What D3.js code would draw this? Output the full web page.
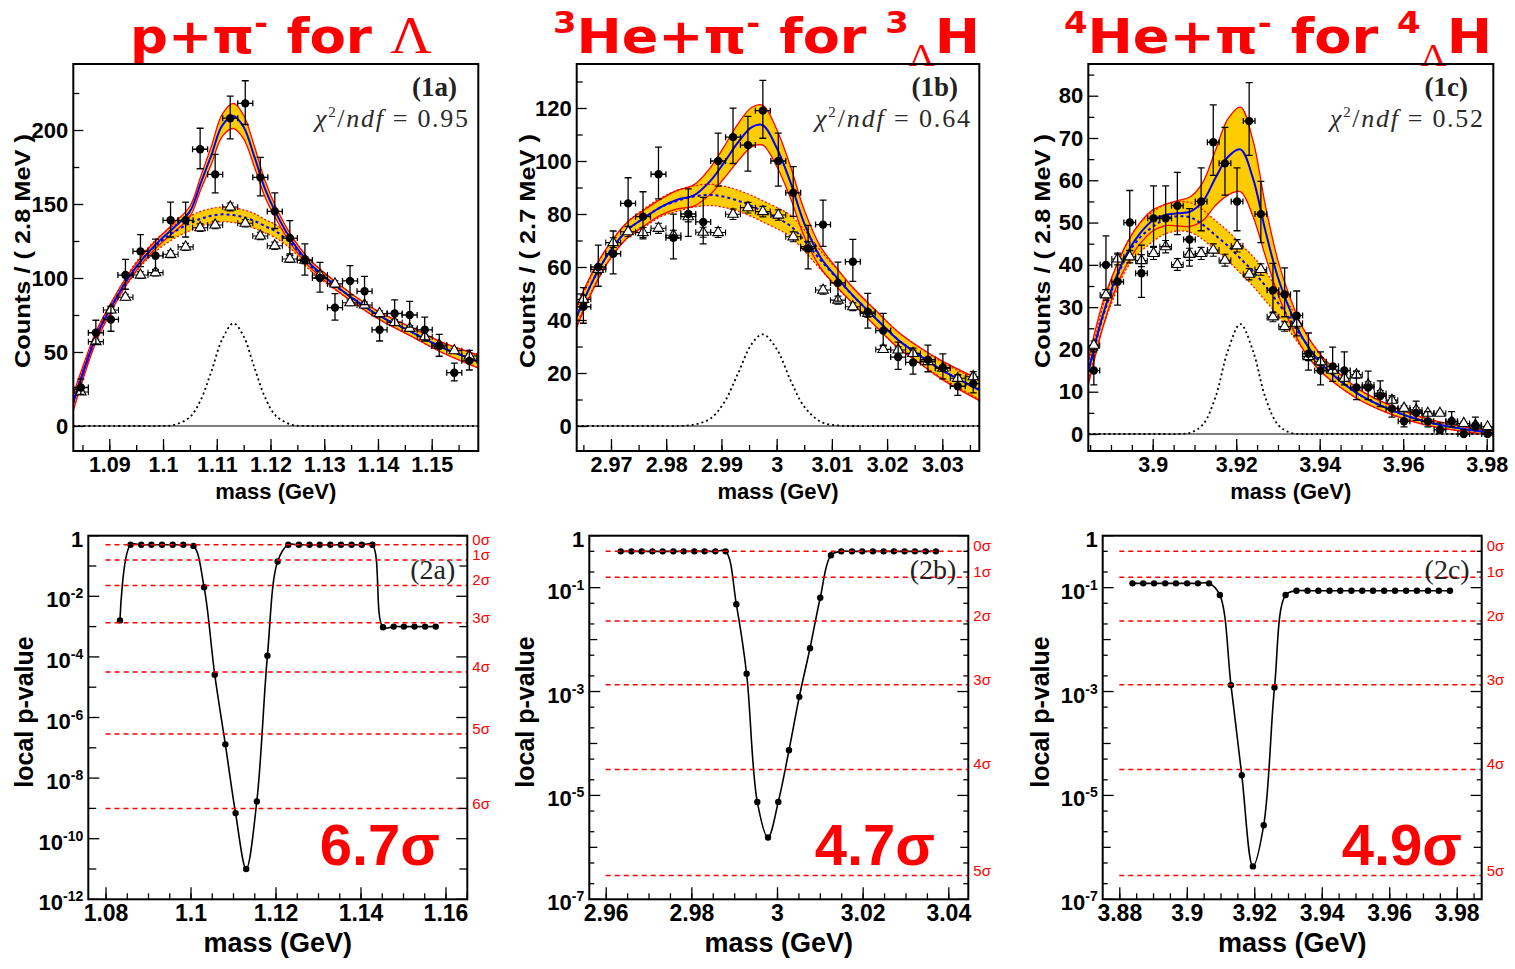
<!DOCTYPE html>
<html>
<head>
<meta charset="utf-8">
<script src="https://cdn.jsdelivr.net/npm/d3@7"></script>
<style>
  body { margin: 0; background: #fff; }
  svg { display: block; font-family: "Liberation Sans", Arial, Helvetica, sans-serif; }
</style>
</head>
<body>
<svg id="chart" width="1515" height="969"></svg>
<script>
// ---------- invariant mass spectra (top row) ----------
// bin centres, same-event counts (solid) and mixed-event background (open triangles)
var massA = [1.0847, 1.0875, 1.0903, 1.0930, 1.0958, 1.0986, 1.1014, 1.1042, 1.1069, 1.1097, 1.1125, 1.1153, 1.1181, 1.1208,
  1.1236, 1.1264, 1.1292, 1.1320, 1.1348, 1.1375, 1.1403, 1.1431, 1.1459, 1.1487, 1.1514, 1.1542, 1.1570];
var countsA = [26, 63, 72, 102, 118, 115, 139, 139, 187, 170, 208, 218, 168, 145, 127, 112, 100, 80, 98, 91, 65, 76, 75, 65, 54, 36, 44];
var mixedA = [23, 57, 78.4, 87, 102, 103.6, 116, 121, 134, 135.8, 148, 137, 128.4, 121.8, 112.8, 112, 102, 96, 83.3, 81.8,
  76, 70, 66, 60.3, 54.7, 50.9, 47.3];

var massB = [2.9650, 2.9677, 2.9704, 2.9731, 2.9758, 2.9786, 2.9813, 2.9840, 2.9867, 2.9894, 2.9921, 2.9948, 2.9975, 3.0003,
  3.0030, 3.0057, 3.0084, 3.0111, 3.0138, 3.0165, 3.0193, 3.0220, 3.0247, 3.0274, 3.0301, 3.0328, 3.0356];
var countsB = [45, 60, 65, 84, 79, 95, 71, 80, 77, 100, 109, 106, 119, 100, 88, 67, 76, 54, 62, 43, 36, 26, 24, 25, 22, 15, 16];
var mixedB = [47.8, 59.1, 69.2, 73.3, 73, 74.6, 72, 79, 73.1, 73, 79.9, 82.4, 80.9, 79.6, 71.4, 67.7, 51.3, 47.5, 45, 42.5,
  28.9, 28.7, 27.4, 24.3, 21.8, 18, 18.6];

var massC = [3.8859, 3.8888, 3.8916, 3.8945, 3.8973, 3.9002, 3.9031, 3.9059, 3.9088, 3.9116, 3.9145, 3.9173, 3.9202, 3.9231,
  3.9259, 3.9288, 3.9316, 3.9345, 3.9373, 3.9402, 3.9431, 3.9459, 3.9488, 3.9516, 3.9545, 3.9573, 3.9602, 3.9631, 3.9659,
  3.9688, 3.9716, 3.9745, 3.9773, 3.9802];
var countsC = [15, 40, 36, 50, 38, 51, 51, 54, 46, 55, 69, 64, 55, 74, 52, 34, 33, 28, 19, 15, 16, 15, 11, 11, 9, 6, 3, 5, 3,
  1, 3, 0, 2, 0];
var mixedC = [21, 32.9, 41.4, 41.9, 41, 42.7, 44.3, 40.1, 42.5, 42.7, 43.5, 41.1, 44.5, 37.8, 38.9, 27.7, 25.4, 26.2, 18.3,
  17.1, 15.1, 13.2, 14, 11.6, 9.6, 8, 6.1, 5.7, 4.9, 4.9, 2.9, 2.5, 2.1, 1.7];
var mixedErrScale = 0.22; // mixed-event errors relative to sqrt(N)

// fit curves: total (blue), background (blue dotted), signal (black dotted) and band half widths
var gridA = [1.0833, 1.0875, 1.090, 1.093, 1.096, 1.099, 1.102, 1.105, 1.107, 1.109, 1.111, 1.1131, 1.115, 1.117, 1.119,
  1.121, 1.124, 1.127, 1.130, 1.135, 1.140, 1.146, 1.152, 1.1587];
var totA = [16, 60, 78, 97, 112, 124, 134, 145, 164, 183, 203, 209.5, 202, 182, 160, 144, 125, 111, 101, 87, 75, 64, 53, 43.5];
var bkgA = [16, 60, 78, 97, 112, 123, 131, 137, 140, 142, 143, 142.5, 141, 138.5, 135, 131.5, 123, 110, 100.5, 87, 75, 64, 53, 43.5];
var sigA = [0, 0, 0, 0, 0, 0, 0.7, 6.0, 17.5, 37, 58.4, 69.4, 60.6, 39.5, 19.2, 6.9, 0.8, 0, 0, 0, 0, 0, 0, 0];
var totErrA = [5.5, 3.5, 3, 2.5, 2.5, 2.5, 3, 3.5, 4.5, 6, 7.5, 8.5, 8, 7, 5.5, 4, 3, 2.5, 2.5, 2.5, 2.5, 3, 3.5, 4.5];
var bkgErrA = [3, 2.5, 2.5, 3, 3.5, 4, 4.5, 5, 5, 5, 5, 5, 5, 5, 4.5, 4.5, 4, 3.5, 3, 2.5, 2.5, 3, 3.5, 4];

var gridB = [2.9638, 2.967, 2.970, 2.973, 2.976, 2.979, 2.982, 2.985, 2.988, 2.9905, 2.993, 2.9955, 2.9975, 3.0, 3.0025,
  3.005, 3.008, 3.011, 3.014, 3.018, 3.022, 3.026, 3.030, 3.0367];
var totB = [41.3, 56, 66.5, 74, 78.5, 82.6, 85.4, 87, 92.5, 99.5, 107, 112.8, 113.5, 105, 92, 76.5, 63.5, 55.8, 48.8, 40.5,
  32.5, 26.5, 21, 13.6];
var bkgB = [41.3, 56, 66.5, 74, 78.5, 82.5, 85, 86.6, 87.2, 86.5, 85, 83, 81, 78.5, 75.5, 70, 62.5, 55.5, 48.8, 40.5, 32.5,
  26.5, 21, 13.6];
var sigB = [0, 0, 0, 0, 0, 0, 0, 0.5, 2.8, 8.9, 19.8, 31, 34.6, 29.1, 17.3, 7.3, 1.6, 0.2, 0, 0, 0, 0, 0, 0];
var totErrB = [4, 3.5, 3, 3, 3, 3, 3.5, 4, 5, 6, 7, 7.5, 7.5, 7, 6, 5, 4, 3.5, 3, 3, 3, 3, 3.5, 4];
var bkgErrB = [3, 3, 3, 3, 3.5, 3.5, 4, 4, 4, 4, 4, 4, 4, 4, 4, 4, 3.5, 3.5, 3, 3, 3, 3, 3, 3.5];

var gridC = [3.8846, 3.888, 3.891, 3.894, 3.897, 3.900, 3.903, 3.906, 3.909, 3.912, 3.915, 3.918, 3.921, 3.924, 3.927,
  3.930, 3.933, 3.936, 3.940, 3.945, 3.950, 3.957, 3.965, 3.973, 3.9816];
var totC = [14.7, 28, 36.5, 43, 47.5, 50.5, 51.8, 52.2, 52.6, 55, 60.5, 65.5, 67.3, 60.5, 48, 37, 29, 22.5, 17, 12.5, 9,
  5.7, 3, 1.4, 0.2];
var bkgC = [14.7, 27.5, 36, 42.5, 46.5, 49, 50.8, 51.5, 51.2, 49.5, 47, 44.5, 41.5, 38.5, 35, 31, 27, 22.5, 17, 12.5, 9,
  5.7, 3, 1.4, 0.2];
var sigC = [0, 0, 0, 0, 0, 0, 0, 0, 0.3, 2.2, 8.6, 19.7, 26, 19.7, 8.6, 2.2, 0.3, 0, 0, 0, 0, 0, 0, 0, 0];
var totErrC = [3, 3, 2.5, 2.5, 2.5, 2.5, 2.5, 3, 3.5, 4.5, 6.5, 9, 10, 9, 6, 4, 3, 2.5, 2, 1.5, 1.2, 1, 0.8, 0.6, 0.5];
var bkgErrC = [2, 2.5, 3, 3, 3.5, 3.5, 3.5, 3.5, 3.5, 3.5, 3.5, 3.5, 3.5, 3.5, 3.5, 3, 3, 2.5, 2, 1.5, 1.2, 1, 0.8, 0.6, 0.5];

// ---------- local p-value scans (bottom row) ----------
var scanMassA = [1.0834, 1.0859, 1.0884, 1.0908, 1.0933, 1.0958, 1.0983, 1.1007, 1.1032, 1.1057, 1.1082, 1.1106, 1.1131,
  1.1156, 1.1181, 1.1205, 1.1230, 1.1255, 1.1280, 1.1304, 1.1329, 1.1354, 1.1379, 1.1403, 1.1428, 1.1453, 1.1478, 1.1502,
  1.1527, 1.1552, 1.1577];
var pValueA = [1.6e-3, 0.5, 0.5, 0.5, 0.5, 0.5, 0.5, 0.46, 0.02, 2.6e-5, 1.3e-7, 7e-10, 1.0e-11, 1.7e-9, 1.1e-4, 0.14,
  0.5, 0.5, 0.5, 0.5, 0.5, 0.5, 0.5, 0.5, 0.5, 9.5e-4, 1.0e-3, 1.0e-3, 1.0e-3, 1.0e-3, 1.0e-3];

var scanMassB = [2.9635, 2.9660, 2.9684, 2.9709, 2.9733, 2.9758, 2.9782, 2.9807, 2.9831, 2.9856, 2.9880, 2.9905, 2.9929,
  2.9954, 2.9979, 3.0003, 3.0028, 3.0052, 3.0077, 3.0101, 3.0126, 3.0150, 3.0175, 3.0199, 3.0224, 3.0249, 3.0273, 3.0298,
  3.0322, 3.0347, 3.0371];
var pValueB = [0.5, 0.5, 0.5, 0.5, 0.5, 0.5, 0.5, 0.5, 0.5, 0.5, 0.5, 0.048, 2.2e-3, 7.5e-6, 1.55e-6, 7.5e-6, 7.4e-5,
  7.9e-4, 6.8e-3, 0.064, 0.42, 0.5, 0.5, 0.5, 0.5, 0.5, 0.5, 0.5, 0.5, 0.5, 0.5];

var scanMassC = [3.8839, 3.8871, 3.8903, 3.8936, 3.8968, 3.9001, 3.9033, 3.9066, 3.9098, 3.9131, 3.9163, 3.9196, 3.9228,
  3.9260, 3.9293, 3.9325, 3.9358, 3.9390, 3.9423, 3.9455, 3.9488, 3.9520, 3.9552, 3.9585, 3.9617, 3.9650, 3.9682, 3.9715,
  3.9747, 3.9780];
var pValueC = [0.121, 0.121, 0.121, 0.121, 0.121, 0.121, 0.121, 0.121, 0.072, 1.33e-3, 2.45e-5, 4.3e-7, 2.67e-6, 1.2e-3,
  0.072, 0.087, 0.087, 0.087, 0.087, 0.087, 0.087, 0.087, 0.087, 0.087, 0.087, 0.087, 0.087, 0.087, 0.087, 0.087];

// one-sided p-values of 0..6 sigma
var sigmaP = [0.5, 0.1587, 0.02275, 1.35e-3, 3.17e-5, 2.87e-7, 9.87e-10];

// tick labels
var topXTicksA = [1.09, 1.10, 1.11, 1.12, 1.13, 1.14, 1.15];
var topXTicksB = [2.97, 2.98, 2.99, 3.00, 3.01, 3.02, 3.03];
var topXTicksC = [3.90, 3.92, 3.94, 3.96, 3.98];
var topYTicksA = [0, 50, 100, 150, 200];
var topYTicksB = [0, 20, 40, 60, 80, 100, 120];
var topYTicksC = [0, 10, 20, 30, 40, 50, 60, 70, 80];
var botXTicksA = [1.08, 1.10, 1.12, 1.14, 1.16];
var botXTicksB = [2.96, 2.98, 3.00, 3.02, 3.04];
var botXTicksC = [3.88, 3.90, 3.92, 3.94, 3.96, 3.98];
var botYExpA = [0, -2, -4, -6, -8, -10, -12];
var botYExpB = [0, -1, -3, -5, -7];

var RED = '#ff0000', YELLOW = '#ffcc00', BLUE = '#0000ff';
var svg = d3.select('#chart');
var defs = svg.append('defs');

function fmtMass(d) { return String(+d.toFixed(3)); }

function styleAxis(sel, size) {
  sel.select('.domain').remove();
  sel.attr('font-family', null).attr('font-size', null);
  sel.selectAll('line').attr('stroke', '#000').attr('stroke-width', 1.3);
  sel.selectAll('text').attr('fill', '#000').attr('font-size', size).attr('font-weight', 'bold');
}

function addClip(id, l, t, r, b) {
  defs.append('clipPath').attr('id', id).append('rect')
    .attr('x', l).attr('y', t).attr('width', r - l).attr('height', b - t);
  return 'url(#' + id + ')';
}

function rotatedTitle(x, y, text, size, len) {
  var t = svg.append('text')
    .attr('transform', 'translate(' + x + ',' + y + ')rotate(-90)')
    .attr('text-anchor', 'middle').attr('dominant-baseline', 'central')
    .attr('font-size', size).attr('font-weight', 'bold').text(text);
  if (len) t.attr('textLength', len).attr('lengthAdjust', 'spacingAndGlyphs');
}

// ---------- top row ----------
function drawMassPanel(p) {
  var x = d3.scaleLinear().domain(p.xDomain).range([p.left, p.right]);
  var y = d3.scaleLinear().domain(p.yDomain).range([p.bottom, p.top]);
  var g = svg.append('g');
  var plot = g.append('g').attr('clip-path', addClip('clip-' + p.id, p.left, p.top, p.right, p.bottom));

  var fit = p.grid.map(function (m, i) {
    return {m: m, tot: p.tot[i], te: p.totErr[i], bkg: p.bkg[i], be: p.bkgErr[i], sig: p.sig[i]};
  });
  var curve = d3.curveCatmullRom;
  function band(v, e) {
    return d3.area().curve(curve).x(function (d) { return x(d.m); })
      .y0(function (d) { return y(d[v] - d[e]); }).y1(function (d) { return y(d[v] + d[e]); });
  }
  function line(f) {
    return d3.line().curve(curve).x(function (d) { return x(d.m); }).y(function (d) { return y(f(d)); });
  }

  // zero line
  plot.append('line').attr('x1', p.left).attr('x2', p.right).attr('y1', y(0)).attr('y2', y(0))
    .attr('stroke', '#000').attr('stroke-width', 1);

  // error bands
  plot.append('path').attr('d', band('bkg', 'be')(fit)).attr('fill', YELLOW);
  plot.append('path').attr('d', band('tot', 'te')(fit)).attr('fill', YELLOW);
  [-1, 1].forEach(function (s) {
    plot.append('path').attr('d', line(function (d) { return d.bkg + s * d.be; })(fit))
      .attr('fill', 'none').attr('stroke', RED).attr('stroke-width', 1.2).attr('stroke-dasharray', '2,2');
    plot.append('path').attr('d', line(function (d) { return d.tot + s * d.te; })(fit))
      .attr('fill', 'none').attr('stroke', RED).attr('stroke-width', 1.3);
  });

  // signal peak
  plot.append('path').attr('d', line(function (d) { return d.sig; })(fit))
    .attr('fill', 'none').attr('stroke', '#000').attr('stroke-width', 1.8).attr('stroke-dasharray', '2,3');

  // background + total fit
  plot.append('path').attr('d', line(function (d) { return d.bkg; })(fit))
    .attr('fill', 'none').attr('stroke', BLUE).attr('stroke-width', 2).attr('stroke-dasharray', '3,3');
  plot.append('path').attr('d', line(function (d) { return d.tot; })(fit))
    .attr('fill', 'none').attr('stroke', BLUE).attr('stroke-width', 2);

  // points with error bars
  var hw = p.halfBin;
  function errPath(d) {
    var cx = x(d.m), cy = y(d.v), x0 = x(d.m - hw), x1 = x(d.m + hw);
    var y0 = y(d.v - d.lo), y1 = y(d.v + d.hi);
    return 'M' + x0 + ',' + cy + 'H' + x1 +
      'M' + x0 + ',' + (cy - 3) + 'V' + (cy + 3) + 'M' + x1 + ',' + (cy - 3) + 'V' + (cy + 3) +
      'M' + cx + ',' + y0 + 'V' + y1 +
      'M' + (cx - 3.5) + ',' + y0 + 'H' + (cx + 3.5) + 'M' + (cx - 3.5) + ',' + y1 + 'H' + (cx + 3.5);
  }
  var mixed = p.mass.map(function (m, i) {
    var e = mixedErrScale * Math.sqrt(p.mixed[i]);
    return {m: m, v: p.mixed[i], lo: e, hi: e};
  });
  var same = p.mass.map(function (m, i) {
    var n = p.counts[i], r = Math.sqrt(n + 0.25);
    return {m: m, v: n, lo: r - 0.5, hi: r + 0.5};
  });
  var pts = plot.append('g');
  pts.selectAll('path.em').data(mixed).join('path').attr('class', 'em').attr('d', errPath)
    .attr('fill', 'none').attr('stroke', '#000').attr('stroke-width', 1.1);
  pts.selectAll('path.tri').data(mixed).join('path').attr('class', 'tri')
    .attr('d', d3.symbol().type(d3.symbolTriangle).size(48))
    .attr('transform', function (d) { return 'translate(' + x(d.m) + ',' + y(d.v) + ')'; })
    .attr('fill', '#fff').attr('stroke', '#000').attr('stroke-width', 1.1);
  pts.selectAll('path.es').data(same).join('path').attr('class', 'es').attr('d', errPath)
    .attr('fill', 'none').attr('stroke', '#000').attr('stroke-width', 1.3);
  pts.selectAll('circle').data(same).join('circle')
    .attr('cx', function (d) { return x(d.m); }).attr('cy', function (d) { return y(d.v); })
    .attr('r', 4.2).attr('fill', '#000');

  // axes
  var xMinor = d3.range(Math.ceil(p.xDomain[0] * 200), Math.floor(p.xDomain[1] * 200) + 1).map(function (k) { return k / 200; });
  g.append('g').attr('transform', 'translate(0,' + p.bottom + ')')
    .call(d3.axisBottom(x).tickValues(xMinor).tickSize(-6).tickFormat(''))
    .call(styleAxis, 21.5);
  g.append('g').attr('transform', 'translate(0,' + p.bottom + ')')
    .call(d3.axisBottom(x).tickValues(p.xTicks).tickSize(-12).tickPadding(6).tickFormat(fmtMass))
    .call(styleAxis, 21.5);
  var yStep = p.yTicks[1] - p.yTicks[0];
  var yMinor = p.yTicks.map(function (v) { return v + yStep / 2; }).filter(function (v) { return v < p.yDomain[1]; });
  g.append('g').attr('transform', 'translate(' + p.left + ',0)')
    .call(d3.axisLeft(y).tickValues(yMinor).tickSize(-6).tickFormat(''))
    .call(styleAxis, 22);
  g.append('g').attr('transform', 'translate(' + p.left + ',0)')
    .call(d3.axisLeft(y).tickValues(p.yTicks).tickSize(-10).tickPadding(5).tickFormat(d3.format('d')))
    .call(styleAxis, 22);

  g.append('rect').attr('x', p.left).attr('y', p.top).attr('width', p.right - p.left).attr('height', p.bottom - p.top)
    .attr('fill', 'none').attr('stroke', '#000').attr('stroke-width', 2);

  // titles and labels
  g.append('text').attr('x', (p.left + p.right) / 2).attr('y', 498.5).attr('text-anchor', 'middle')
    .attr('font-size', 22).attr('font-weight', 'bold').text('mass (GeV)');
  rotatedTitle(p.yTitleX, 251, p.yTitle, 22, 234);
  g.append('text').attr('x', p.labelRight).attr('y', 96).attr('text-anchor', 'end')
    .attr('font-family', '"Liberation Serif", "DejaVu Serif", serif').attr('font-weight', 'bold')
    .attr('font-size', 27).attr('fill', '#222').text(p.label);
  var chi = g.append('text').attr('x', p.chiRight).attr('y', 127).attr('text-anchor', 'end')
    .attr('font-family', '"Liberation Serif", "DejaVu Serif", serif').attr('font-size', 26).attr('fill', '#2a2a2a')
    .attr('textLength', p.chiRight - p.chiLeft).attr('lengthAdjust', 'spacing');
  chi.append('tspan').attr('font-style', 'italic').text('χ');
  chi.append('tspan').attr('font-size', 15).attr('dy', -10).text('2');
  chi.append('tspan').attr('dy', 10).text('/');
  chi.append('tspan').attr('font-style', 'italic').text('ndf');
  chi.append('tspan').text(' = ' + p.chi2);
}

// ---------- bottom row ----------
function drawScanPanel(p) {
  var x = d3.scaleLinear().domain(p.xDomain).range([p.left, p.right]);
  var y = d3.scaleLog().domain([p.yMin, 1]).range([p.bottom, p.top]);
  var g = svg.append('g');
  var plot = g.append('g').attr('clip-path', addClip('clipb-' + p.id, p.left, p.top, p.right, p.bottom));

  var levels = sigmaP.slice(0, p.nSigma + 1);
  g.selectAll('line.sig').data(levels).join('line').attr('class', 'sig')
    .attr('x1', x(p.xTicks[0])).attr('x2', p.right)
    .attr('y1', function (d) { return y(d); }).attr('y2', function (d) { return y(d); })
    .attr('stroke', RED).attr('stroke-width', 1.5).attr('stroke-dasharray', '5,4');
  g.selectAll('text.sig').data(levels).join('text').attr('class', 'sig')
    .attr('x', p.right + 5).attr('y', function (d) { return y(d); })
    .attr('font-size', 15).attr('fill', RED)
    .text(function (d, i) { return i + 'σ'; });

  var scan = p.mass.map(function (m, i) { return {m: m, v: p.pv[i]}; });
  plot.append('path')
    .attr('d', d3.line().curve(d3.curveCatmullRom).x(function (d) { return x(d.m); }).y(function (d) { return y(d.v); })(scan))
    .attr('fill', 'none').attr('stroke', '#000').attr('stroke-width', 1.6);
  plot.selectAll('circle').data(scan).join('circle')
    .attr('cx', function (d) { return x(d.m); }).attr('cy', function (d) { return y(d.v); })
    .attr('r', 3.2).attr('fill', '#000');

  // x axis
  var xMinor = d3.range(Math.ceil(p.xDomain[0] * 200), Math.floor(p.xDomain[1] * 200) + 1).map(function (k) { return k / 200; });
  g.append('g').attr('transform', 'translate(0,' + p.bottom + ')')
    .call(d3.axisBottom(x).tickValues(xMinor).tickSize(-6).tickFormat(''))
    .call(styleAxis, 23);
  g.append('g').attr('transform', 'translate(0,' + p.bottom + ')')
    .call(d3.axisBottom(x).tickValues(p.xTicks).tickSize(-12).tickPadding(5).tickFormat(fmtMass))
    .call(styleAxis, 23);

  // log y axis, ticks on both sides
  var eMin = Math.round(Math.log10(p.yMin));
  var ticks = [];
  for (var e = eMin; e <= 0; e++) {
    ticks.push({v: Math.pow(10, e), len: p.yExp.indexOf(e) >= 0 ? 11 : 8});
    if (p.subTicks && e < 0) {
      ticks.push({v: 2 * Math.pow(10, e), len: 5});
      ticks.push({v: 5 * Math.pow(10, e), len: 5});
    }
  }
  var tg = g.append('g').attr('stroke', '#000').attr('stroke-width', 1.3);
  tg.selectAll('line.l').data(ticks).join('line').attr('class', 'l')
    .attr('x1', p.left).attr('x2', function (d) { return p.left + d.len; })
    .attr('y1', function (d) { return y(d.v); }).attr('y2', function (d) { return y(d.v); });
  tg.selectAll('line.r').data(ticks).join('line').attr('class', 'r')
    .attr('x1', p.right).attr('x2', function (d) { return p.right - d.len; })
    .attr('y1', function (d) { return y(d.v); }).attr('y2', function (d) { return y(d.v); });

  var lab = g.selectAll('text.ylab').data(p.yExp).join('text').attr('class', 'ylab')
    .attr('x', p.left - 5).attr('y', function (d) { return y(Math.pow(10, d)) + 11; })
    .attr('text-anchor', 'end').attr('font-size', 22).attr('font-weight', 'bold');
  lab.each(function (d) {
    var t = d3.select(this);
    if (d === 0) { t.text('1'); return; }
    t.append('tspan').text('10');
    t.append('tspan').attr('font-size', 14).attr('dy', -9).text(String(d));
  });

  g.append('rect').attr('x', p.left).attr('y', p.top).attr('width', p.right - p.left).attr('height', p.bottom - p.top)
    .attr('fill', 'none').attr('stroke', '#000').attr('stroke-width', 2);

  g.append('text').attr('x', (p.left + p.right) / 2).attr('y', 952).attr('text-anchor', 'middle')
    .attr('font-size', 27).attr('font-weight', 'bold').text('mass (GeV)');
  rotatedTitle(p.yTitleX, 712, 'local p-value', 25);
  g.append('text').attr('x', p.right - 12).attr('y', 579).attr('text-anchor', 'end')
    .attr('font-family', '"Liberation Serif", "DejaVu Serif", serif').attr('font-size', 28).attr('fill', '#222')
    .text(p.label);
  g.append('text').attr('x', p.sigRight).attr('y', 865).attr('text-anchor', 'end')
    .attr('font-size', 58).attr('font-weight', 'bold').attr('fill', RED).text(p.significance);
}

// ---------- titles ----------
function drawTitle(t) {
  var txt = svg.append('text').attr('x', t.x).attr('y', 53).attr('fill', RED)
    .attr('font-family', '"DejaVu Sans", "Noto Sans", sans-serif').attr('font-weight', 'bold').attr('font-size', 48)
    .attr('textLength', t.width).attr('lengthAdjust', 'spacingAndGlyphs');
  t.parts.forEach(function (pt) {
    var s = txt.append('tspan').text(pt.s);
    if (pt.dy) s.attr('dy', pt.dy);
    if (pt.size) s.attr('font-size', pt.size);
    if (pt.serif) s.attr('font-family', '"Liberation Serif", "DejaVu Serif", serif').attr('font-weight', 'normal');
  });
}

drawTitle({x: 130, width: 302, parts: [{s: 'p+π'}, {s: '-', dy: -19, size: 30}, {s: ' for ', dy: 19}, {s: 'Λ', serif: true, size: 52}]});
drawTitle({x: 553, width: 427, parts: [{s: '3', dy: -20, size: 30}, {s: 'He+π', dy: 20}, {s: '-', dy: -19, size: 30},
  {s: ' for ', dy: 19}, {s: '3', dy: -20, size: 30}, {s: 'Λ', dy: 33, size: 32, serif: true}, {s: 'H', dy: -13}]});
drawTitle({x: 1064, width: 428, parts: [{s: '4', dy: -20, size: 30}, {s: 'He+π', dy: 20}, {s: '-', dy: -19, size: 30},
  {s: ' for ', dy: 19}, {s: '4', dy: -20, size: 30}, {s: 'Λ', dy: 33, size: 32, serif: true}, {s: 'H', dy: -13}]});

drawMassPanel({id: 'a', left: 73.3, right: 478.3, top: 64, bottom: 451, xDomain: [1.0833, 1.15867], yDomain: [-16.9, 244.6],
  mass: massA, counts: countsA, mixed: mixedA, halfBin: 0.0014,
  grid: gridA, tot: totA, totErr: totErrA, bkg: bkgA, bkgErr: bkgErrA, sig: sigA,
  xTicks: topXTicksA, yTicks: topYTicksA, yTitle: 'Counts / ( 2.8 MeV )', yTitleX: 22,
  label: '(1a)', labelRight: 457, chi2: '0.95', chiLeft: 315, chiRight: 468});
drawMassPanel({id: 'b', left: 576.7, right: 979.3, top: 64, bottom: 451, xDomain: [2.96379, 3.0367], yDomain: [-9.43, 136.6],
  mass: massB, counts: countsB, mixed: mixedB, halfBin: 0.00135,
  grid: gridB, tot: totB, totErr: totErrB, bkg: bkgB, bkgErr: bkgErrB, sig: sigB,
  xTicks: topXTicksB, yTicks: topYTicksB, yTitle: 'Counts / ( 2.7 MeV )', yTitleX: 527,
  label: '(1b)', labelRight: 958, chi2: '0.64', chiLeft: 815, chiRight: 970});
drawMassPanel({id: 'c', left: 1088.3, right: 1493.3, top: 64, bottom: 451, xDomain: [3.88457, 3.98158], yDomain: [-4.02, 87.5],
  mass: massC, counts: countsC, mixed: mixedC, halfBin: 0.0014,
  grid: gridC, tot: totC, totErr: totErrC, bkg: bkgC, bkgErr: bkgErrC, sig: sigC,
  xTicks: topXTicksC, yTicks: topYTicksC, yTitle: 'Counts / ( 2.8 MeV )', yTitleX: 1042,
  label: '(1c)', labelRight: 1468, chi2: '0.52', chiLeft: 1330, chiRight: 1483});

drawScanPanel({id: 'a', left: 88.3, right: 467.3, top: 535.7, bottom: 899.3, xDomain: [1.07595, 1.16513], yMin: 1e-12,
  mass: scanMassA, pv: pValueA, nSigma: 6, xTicks: botXTicksA, yExp: botYExpA, subTicks: false,
  yTitleX: 24, label: '(2a)', significance: '6.7σ', sigRight: 440});
drawScanPanel({id: 'b', left: 589.3, right: 968.3, top: 535.7, bottom: 899.3, xDomain: [2.95617, 3.04467], yMin: 1e-7,
  mass: scanMassB, pv: pValueB, nSigma: 5, xTicks: botXTicksB, yExp: botYExpB, subTicks: true,
  yTitleX: 525, label: '(2b)', significance: '4.7σ', sigRight: 935});
drawScanPanel({id: 'c', left: 1102.7, right: 1481.7, top: 535.7, bottom: 899.3, xDomain: [3.87508, 3.98741], yMin: 1e-7,
  mass: scanMassC, pv: pValueC, nSigma: 5, xTicks: botXTicksC, yExp: botYExpB, subTicks: true,
  yTitleX: 1040, label: '(2c)', significance: '4.9σ', sigRight: 1462});
</script>
</body>
</html>
